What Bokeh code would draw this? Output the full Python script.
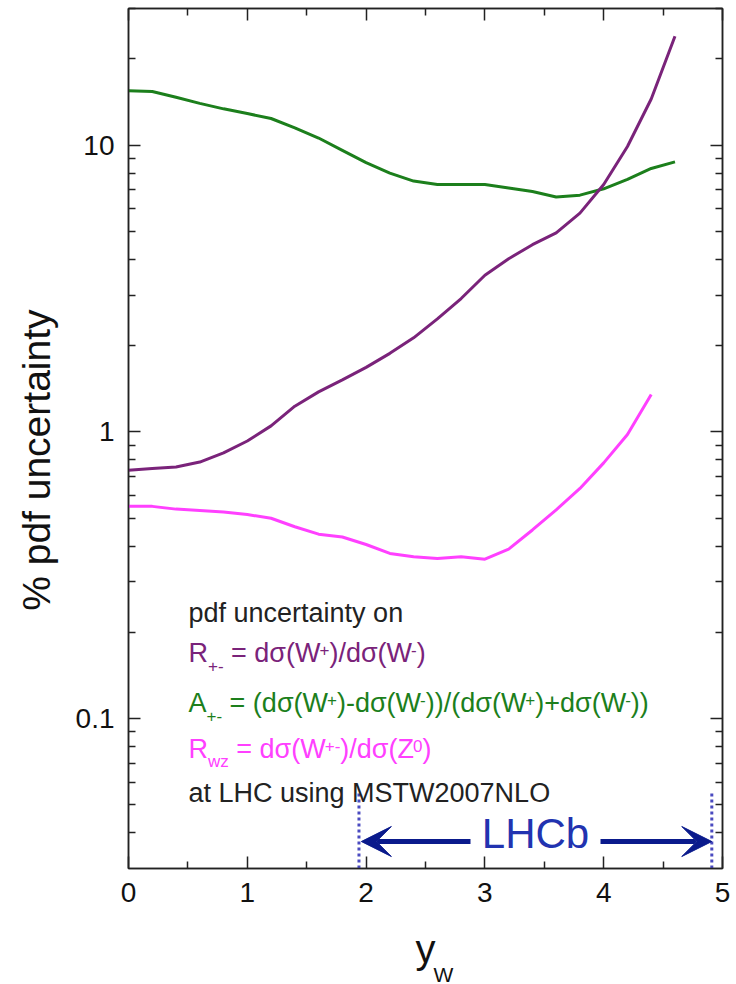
import math
from bokeh.plotting import figure
from bokeh.models import (FixedTicker, LinearAxis, LogAxis, Label, Arrow, VeeHead,
                          CustomJSTickFormatter, Range1d, Title)
from bokeh.embed import file_html
from bokeh.resources import INLINE

# ---------------- data ----------------
y_w = [0.0, 0.2, 0.4, 0.6, 0.8, 1.0, 1.2, 1.4, 1.6, 1.8, 2.0, 2.2, 2.4, 2.6, 2.8,
       3.0, 3.2, 3.4, 3.6, 3.8, 4.0, 4.2, 4.4, 4.6]
r_pm = [0.735, 0.745, 0.755, 0.785, 0.845, 0.93, 1.05, 1.23, 1.38, 1.52, 1.68, 1.88,
        2.13, 2.48, 2.92, 3.52, 4.02, 4.5, 4.95, 5.8, 7.3, 9.9, 14.5, 24.0]
a_pm = [15.5, 15.4, 14.7, 14.0, 13.4, 12.9, 12.4, 11.5, 10.6, 9.6, 8.7, 8.0,
        7.5, 7.3, 7.3, 7.3, 7.1, 6.9, 6.6, 6.7, 7.05, 7.6, 8.3, 8.75]
y_w_rwz = [0.0, 0.2, 0.4, 0.6, 0.8, 1.0, 1.2, 1.4, 1.6, 1.8, 2.0, 2.2, 2.4, 2.6, 2.8,
           3.0, 3.2, 3.4, 3.6, 3.8, 4.0, 4.2, 4.4]
r_wz = [0.55, 0.55, 0.538, 0.532, 0.526, 0.515, 0.50, 0.467, 0.44, 0.43, 0.405, 0.377,
        0.367, 0.362, 0.367, 0.36, 0.39, 0.455, 0.535, 0.635, 0.78, 0.98, 1.35]
lhcb_range = [1.94, 4.91]

x_ticks = [0, 1, 2, 3, 4, 5]
x_minor = [0.5, 1.5, 2.5, 3.5, 4.5]
y_ticks = [0.1, 1, 10]
y_minor = [0.04, 0.05, 0.06, 0.07, 0.08, 0.09,
           0.2, 0.3, 0.4, 0.5, 0.6, 0.7, 0.8, 0.9,
           2, 3, 4, 5, 6, 7, 8, 9, 20, 30]

PURPLE = "#7a237a"
GREEN = "#1c7f1c"
MAGENTA = "#ff40ff"
NAVY = "#0a1a8c"
FONT = "Liberation Sans"

W, H = 736, 984
B_LEFT, B_RIGHT, B_TOP, B_BOTTOM = 128, 14, 8, 116
Y0, Y1 = 0.03, 30.0
X0, X1 = 0.0, 5.0
FH = H - B_TOP - B_BOTTOM
FW = W - B_LEFT - B_RIGHT

p = figure(width=W, height=H, y_axis_type="log", x_range=Range1d(X0, X1),
           y_range=Range1d(Y0, Y1), output_backend="svg", toolbar_location=None,
           min_border_left=B_LEFT, min_border_right=B_RIGHT,
           min_border_top=B_TOP, min_border_bottom=B_BOTTOM)
p.grid.visible = False
p.background_fill_color = "white"
p.border_fill_color = "white"
p.outline_line_color = "#222222"
p.outline_line_width = 1.5


def yv(px):
    lt, lb = math.log10(Y1), math.log10(Y0)
    return 10 ** (lt - (px - B_TOP) * (lt - lb) / FH)


def xv(px):
    return X0 + (px - B_LEFT) * (X1 - X0) / FW


blank = CustomJSTickFormatter(code="return '';")


def style_axis(ax, labels=True):
    ax.axis_line_color = "#222222"
    ax.axis_line_width = 1.5
    ax.major_tick_in = 12
    ax.major_tick_out = 0
    ax.minor_tick_in = 7
    ax.minor_tick_out = 0
    ax.major_tick_line_color = "#222222"
    ax.minor_tick_line_color = "#222222"
    ax.major_tick_line_width = 1.5
    ax.minor_tick_line_width = 1.5
    ax.major_label_text_font = FONT
    ax.major_label_text_color = "#111111"
    ax.major_label_text_font_size = "28px"
    if labels:
        ax.major_label_standoff = 14
    else:
        ax.formatter = blank
        ax.major_label_standoff = 0


xt = FixedTicker(ticks=x_ticks, minor_ticks=x_minor)
yt = FixedTicker(ticks=y_ticks, minor_ticks=y_minor)

p.xaxis.ticker = xt
p.yaxis.ticker = yt
p.yaxis.formatter = CustomJSTickFormatter(code="return tick.toString();")
style_axis(p.xaxis[0])
style_axis(p.yaxis[0])

# trailing no-break spaces push the centred title a little towards the bottom
p.yaxis.axis_label = "% pdf uncertainty" + "\u00a0" * 4
p.yaxis.axis_label_text_font = FONT
p.yaxis.axis_label_text_font_size = "39px"
p.yaxis.axis_label_text_font_style = "normal"
p.yaxis.axis_label_text_color = "#111111"
p.yaxis.axis_label_standoff = 15

p.xaxis.axis_label = "y"
p.xaxis.axis_label_text_font = FONT
p.xaxis.axis_label_text_font_size = "40px"
p.xaxis.axis_label_text_font_style = "normal"
p.xaxis.axis_label_text_color = "#111111"
p.xaxis.axis_label_standoff = 22

p.add_layout(Title(text="W", align="left", offset=305, standoff=-22,
                   vertical_align="top",
                   text_font=FONT, text_font_size="21px", text_font_style="normal",
                   text_color="#111111"), "below")

top = LinearAxis(ticker=FixedTicker(ticks=x_ticks, minor_ticks=x_minor))
style_axis(top, labels=False)
p.add_layout(top, "above")
right = LogAxis(ticker=FixedTicker(ticks=y_ticks, minor_ticks=y_minor))
style_axis(right, labels=False)
p.add_layout(right, "right")

# curves
p.line(y_w, a_pm, line_color=GREEN, line_width=3)
p.line(y_w, r_pm, line_color=PURPLE, line_width=3)
p.line(y_w_rwz, r_wz, line_color=MAGENTA, line_width=3)

# ---- text helpers ----
WID = {' ': 278, '(': 333, ')': 333, '/': 278, '=': 584, '+': 584, '-': 333, 'd': 556,
       'σ': 580, 'W': 944, 'R': 722, 'A': 667, 'Z': 611, '0': 556, 'w': 722, 'z': 500}
MID = 0.3465  # middle of em box above alphabetic baseline


def tw(s, size):
    return sum(WID.get(c, 556) for c in s) * size / 1000.0


def put_text(x_px, base_px, text, fs, color, x_off=0.0, dy=0.0, align="left"):
    # anchor at the middle of the em box, so the baseline lands on base_px
    p.add_layout(Label(x=xv(x_px), y=yv(base_px - dy - MID * fs), x_offset=x_off,
                       text=text, text_font=FONT, text_font_size=f"{fs}px",
                       text_color=color, text_baseline="middle", text_align=align))


def rich(segs, x_px, base_px, color, size=27, small=17):
    off = 0.0
    for text, kind in segs:
        fs = size if kind == "n" else small
        dy = 0 if kind == "n" else (7 if kind == "sup" else -9)
        stripped = text.lstrip(" ")
        off += tw(text[:len(text) - len(stripped)], fs)
        put_text(x_px, base_px, stripped, fs, color, x_off=off, dy=dy)
        off += tw(stripped, fs)


TX = 188
rich([("pdf uncertainty on", "n")], TX, 622, "#222222")
rich([("R", "n"), ("+-", "sub"), (" = dσ(W", "n"), ("+", "sup"), (")/dσ(W", "n"),
      ("-", "sup"), (")", "n")], TX, 662, PURPLE)
rich([("A", "n"), ("+-", "sub"), (" = (dσ(W", "n"), ("+", "sup"), (")-dσ(W", "n"),
      ("-", "sup"), ("))/(dσ(W", "n"), ("+", "sup"), (")+dσ(W", "n"), ("-", "sup"),
      ("))", "n")], TX, 712, GREEN)
rich([("R", "n"), ("wz", "sub"), (" = dσ(W", "n"), ("+-", "sup"), (")/dσ(Z", "n"),
      ("0", "sup"), (")", "n")], TX, 758, MAGENTA)
rich([("at LHC using MSTW2007NLO", "n")], TX, 802, "#222222")

# LHCb region
p.segment(x0=lhcb_range, y0=[yv(793)] * 2, x1=lhcb_range, y1=[Y0] * 2,
          line_color="#4a4ac0", line_width=3, line_dash="3 3")
ay = yv(841)
p.add_layout(Arrow(end=VeeHead(size=30, fill_color=NAVY, line_color=NAVY),
                   x_start=xv(470), y_start=ay, x_end=lhcb_range[0] + 0.02, y_end=ay,
                   line_color=NAVY, line_width=5))
p.add_layout(Arrow(end=VeeHead(size=30, fill_color=NAVY, line_color=NAVY),
                   x_start=xv(600), y_start=ay, x_end=lhcb_range[1], y_end=ay,
                   line_color=NAVY, line_width=5))
put_text(535, 848, "LHCb", 42, "#2233b0", align="center")

open("out.html", "w").write(file_html(p, INLINE))
